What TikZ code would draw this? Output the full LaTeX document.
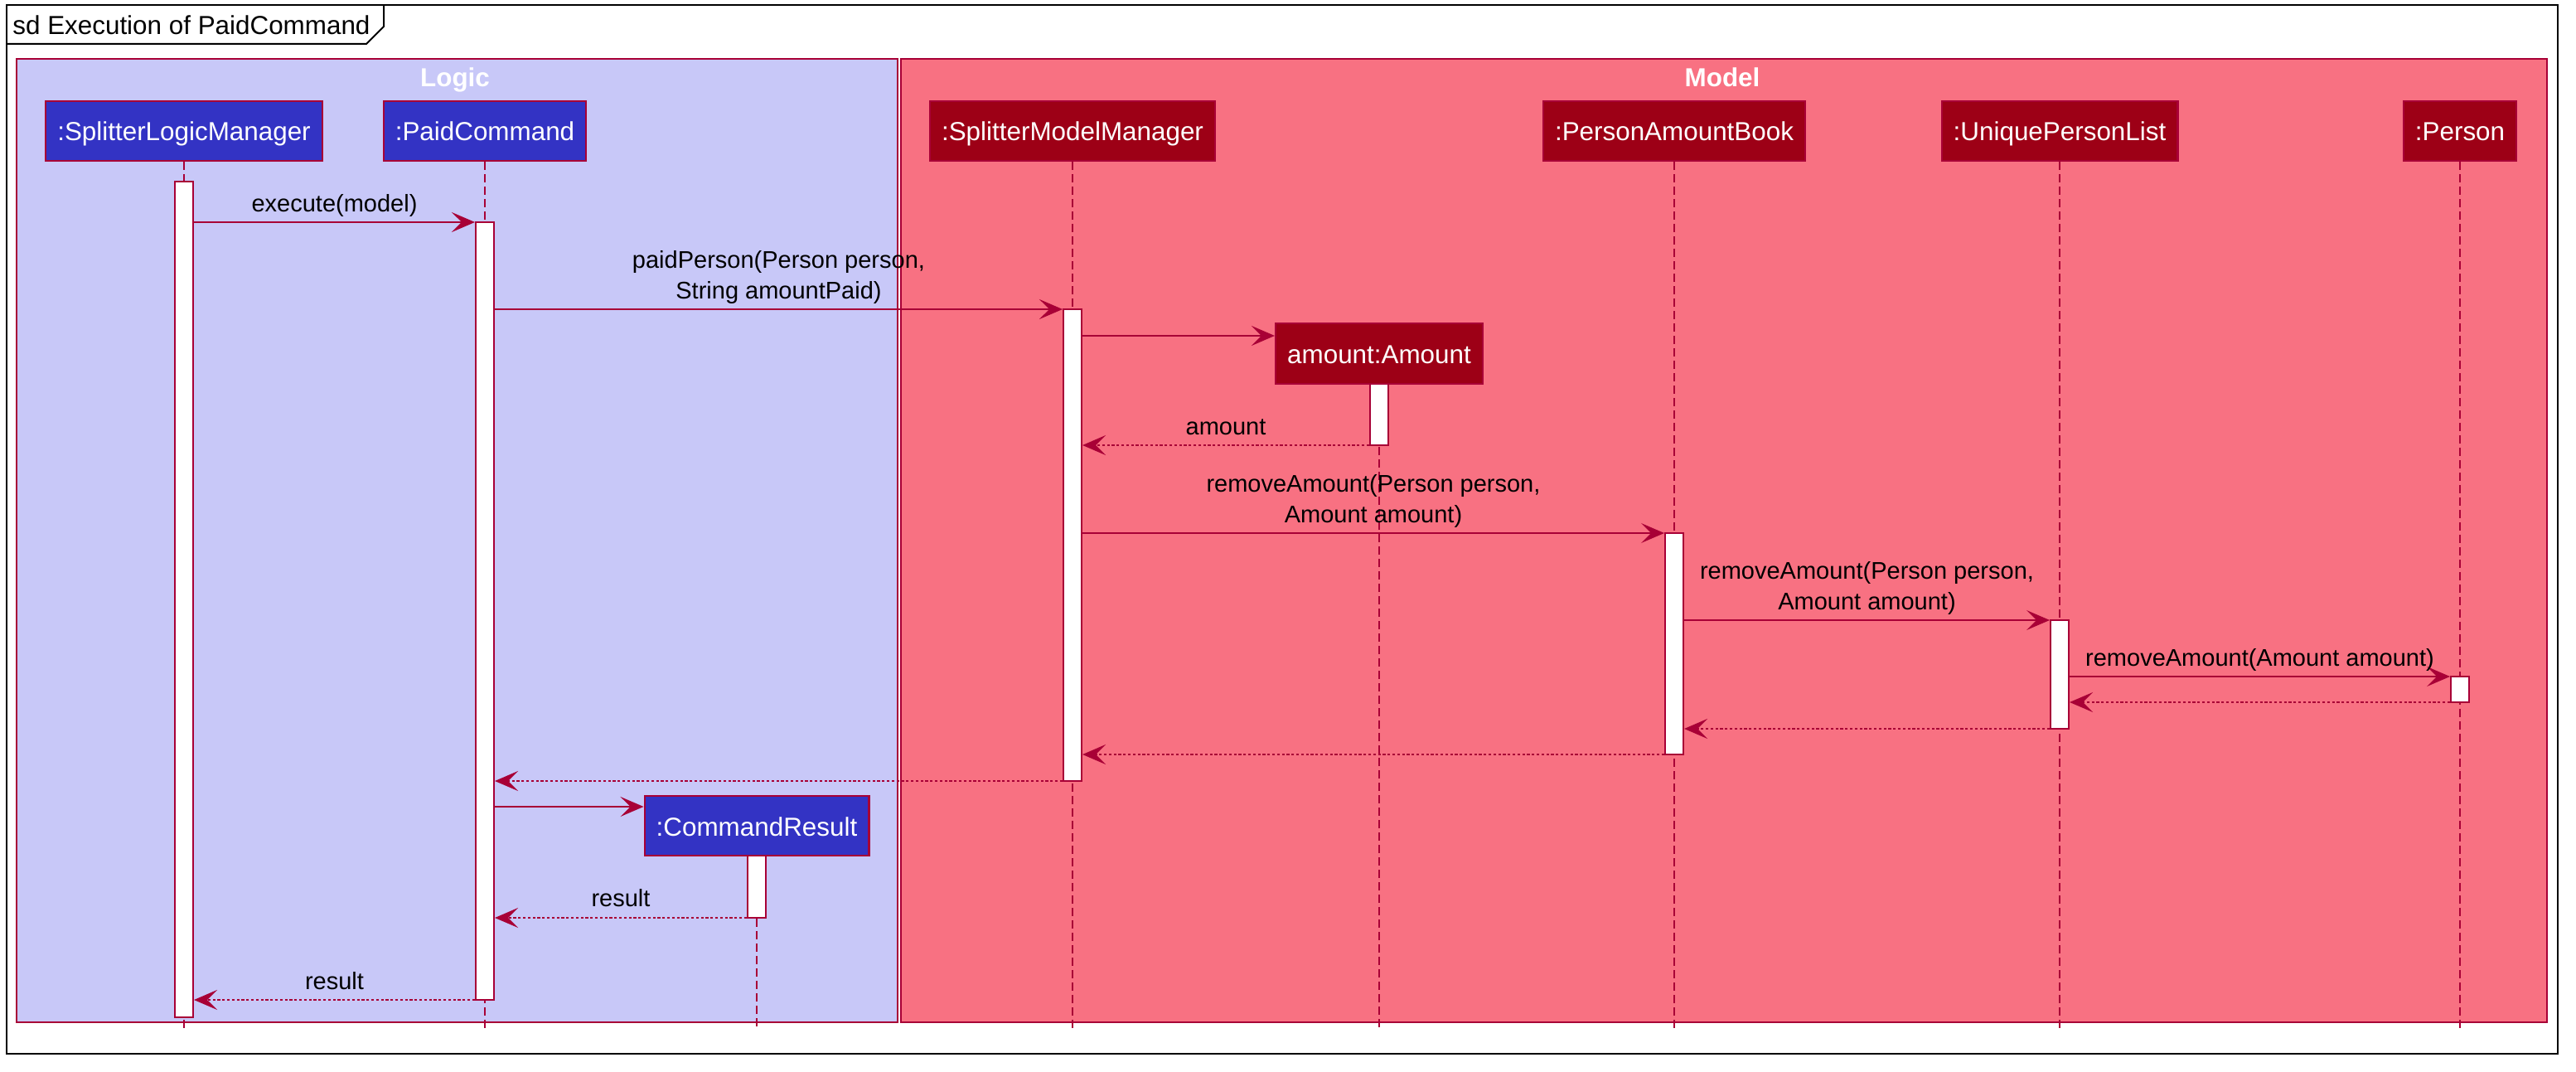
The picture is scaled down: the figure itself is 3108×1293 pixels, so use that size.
\documentclass[tikz,border=0pt]{standalone}
\usepackage{fontspec}
\setmainfont{Liberation Sans}
\usetikzlibrary{arrows.meta}
\definecolor{crim}{HTML}{A80036}
\definecolor{logicbg}{HTML}{C8C8F8}
\definecolor{modelbg}{HTML}{F87182}
\definecolor{blueP}{HTML}{3333C4}
\definecolor{redP}{HTML}{9D0016}
\begin{document}
\begin{tikzpicture}[x=0.5pt,y=-0.5pt,
 font=\fontsize{15.7}{18}\selectfont,
 part/.style={draw=crim, line width=1.2pt, text=white, minimum height=36pt, inner xsep=7pt, inner ysep=0pt, text height=13pt, text depth=1pt},
 logicpart/.style={part, fill=blueP},
 modelpart/.style={part, fill=redP},
 act/.style={draw=crim, fill=white, line width=1pt, minimum width=11pt, inner sep=0pt},
 life/.style={draw=crim, line width=0.8pt, dash pattern=on 5pt off 2.5pt},
 msg/.style={draw=crim, line width=0.9pt, -{Stealth[length=14pt,width=12pt,inset=6pt]}},
 ret/.style={msg, dash pattern=on 1.6pt off 1.3pt},
 lbl/.style={anchor=base, inner sep=0pt, text=black, font=\fontsize{14.5}{17}\selectfont},
 grouptitle/.style={anchor=base, inner sep=0pt, text=white, font=\fontsize{15.7}{18}\selectfont\bfseries},
]
\useasboundingbox (0,0) rectangle (3108,1293);
% outer frame
\draw[black, line width=1pt] (8,6) rectangle (3086,1271);
\draw[black, line width=1pt] (8,53) -- (442,53) -- (463,32) -- (463,6);
\node[anchor=base west, inner sep=0pt] (title) at (15,42) {sd Execution of PaidCommand};
% groups
\draw[crim, fill=logicbg, line width=0.8pt] (20,71) rectangle (1083,1233);
\draw[crim, fill=modelbg, line width=0.8pt] (1087,71) rectangle (3073,1233);
\node[grouptitle] (tLogic) at (549,105) {Logic};
\node[grouptitle] (tModel) at (2078,105) {Model};
% participants
\node[logicpart] (pSLM) at (222,158) {:SplitterLogicManager};
\node[logicpart] (pPC) at (585,158) {:PaidCommand};
\node[modelpart] (pSMM) at (1294,158) {:SplitterModelManager};
\node[modelpart] (pPAB) at (2020,158) {:PersonAmountBook};
\node[modelpart] (pUPL) at (2485,158) {:UniquePersonList};
\node[modelpart] (pP) at (2968,158) {:Person};
\node[modelpart, minimum height=36.5pt] (pAmt) at (1664,426.5) {amount:Amount};
\node[logicpart] (pCR) at (913,996) {:CommandResult};
% lifelines
\coordinate (bot) at (0,1241);
\foreach \p in {pSLM,pPC,pSMM,pPAB,pUPL,pP,pAmt,pCR}
  \draw[life] (\p.south) -- (\p.south |- bot);
% activations
\node[act, minimum height=504pt] (aSLM) at (222,723) {};
\node[act, minimum height=469pt] (aPC) at (585,737) {};
\node[act, minimum height=284.5pt] (aSMM) at (1294,657.5) {};
\node[act, minimum height=37pt] (aAmt) at (1664,500) {};
\node[act, minimum height=133.5pt] (aPAB) at (2020,776.5) {};
\node[act, minimum height=65.5pt] (aUPL) at (2485,813.5) {};
\node[act, minimum height=15.5pt] (aP) at (2968,831.5) {};
\node[act, minimum height=37.5pt] (aCR) at (913,1069.5) {};
% message levels
\coordinate (m1) at (0,268);
\coordinate (m2) at (0,373);
\coordinate (m3) at (0,405);
\coordinate (m4) at (0,537);
\coordinate (m5) at (0,643);
\coordinate (m6) at (0,748);
\coordinate (m7) at (0,816);
\coordinate (m8) at (0,847);
\coordinate (m9) at (0,879);
\coordinate (m10) at (0,910);
\coordinate (m11) at (0,942);
\coordinate (m12) at (0,973);
\coordinate (m13) at (0,1107);
\coordinate (m14) at (0,1206);
% messages
\draw[msg] (aSLM.east |- m1) -- (aPC.west |- m1)
  node[lbl, midway, yshift=6pt] (l1) {execute(model)};
\draw[msg] (aPC.east |- m2) -- (aSMM.west |- m2)
  node[lbl, midway, yshift=6pt] (l2b) {String amountPaid)}
  node[lbl, midway, yshift=24.5pt] (l2a) {paidPerson(Person person,};
\draw[msg] (aSMM.east |- m3) -- (pAmt.west |- m3);
\draw[ret] (aAmt.west |- m4) -- (aSMM.east |- m4)
  node[lbl, midway, yshift=6pt] (l4) {amount};
\draw[msg] (aSMM.east |- m5) -- (aPAB.west |- m5)
  node[lbl, midway, yshift=6pt] (l5b) {Amount amount)}
  node[lbl, midway, yshift=24.5pt] (l5a) {removeAmount(Person person,};
\draw[msg] (aPAB.east |- m6) -- (aUPL.west |- m6)
  node[lbl, midway, yshift=6.5pt] (l6b) {Amount amount)}
  node[lbl, midway, yshift=25pt] (l6a) {removeAmount(Person person,};
\draw[msg] (aUPL.east |- m7) -- (aP.west |- m7)
  node[lbl, midway, yshift=6.5pt] (l7) {removeAmount(Amount amount)};
\draw[ret] (aP.west |- m8) -- (aUPL.east |- m8);
\draw[ret] (aUPL.west |- m9) -- (aPAB.east |- m9);
\draw[ret] (aPAB.west |- m10) -- (aSMM.east |- m10);
\draw[ret] (aSMM.west |- m11) -- (aPC.east |- m11);
\draw[msg] (aPC.east |- m12) -- (pCR.west |- m12);
\draw[ret] (aCR.west |- m13) -- (aPC.east |- m13)
  node[lbl, midway, yshift=7pt] (l13) {result};
\draw[ret] (aPC.west |- m14) -- (aSLM.east |- m14)
  node[lbl, midway, yshift=6.5pt] (l14) {result};
\end{tikzpicture}
\end{document}
